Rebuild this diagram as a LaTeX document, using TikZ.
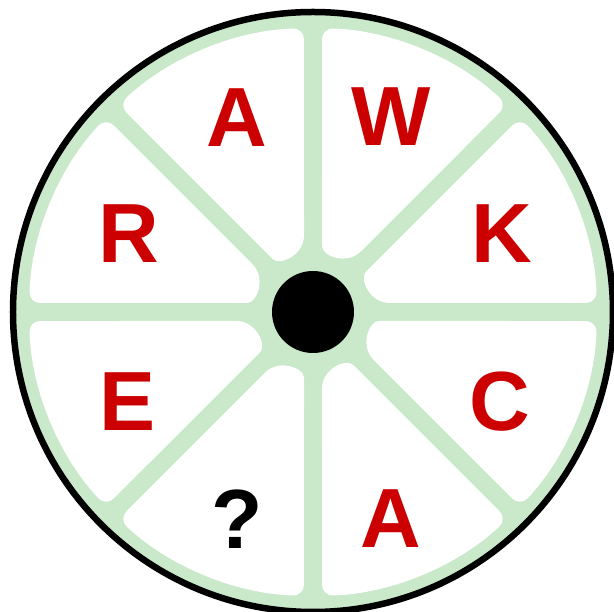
\documentclass[tikz,border=0pt]{standalone}
\usepackage{fontspec}
\usetikzlibrary{calc}
\setmainfont{Liberation Sans}
\definecolor{rimgreen}{RGB}{202,232,202}
\definecolor{letterred}{RGB}{204,0,0}
\tikzset{
  sector/.style={fill=white},
  letter/.style={inner sep=0pt, text=letterred, font=\fontsize{84}{84}\selectfont\bfseries},
  qmark/.style={inner sep=0pt, text=black, font=\fontsize{84}{84}\selectfont\bfseries}
}
\begin{document}
\begin{tikzpicture}[x=1pt,y=1pt]
\useasboundingbox (-313,-300) rectangle (301,312);
\clip (-313,-300) rectangle (301,312);
\fill[white] (-313,-300) rectangle (301,312);
% green disc
\fill[rimgreen] (0,0) circle[radius=299];
% white sectors
\foreach \k in {0,...,7}{
  \pgfmathsetmacro{\a}{45*\k}
  \pgfmathsetmacro{\b}{45*(\k+1)}
  \pgfmathsetmacro{\m}{\a+22.5}
  \pgfmathsetmacro{\sa}{\a+1.82}
  \pgfmathsetmacro{\eb}{\b-1.82}
  \coordinate (tip) at (\m:23.5);
  \coordinate (pa) at ($(tip)!55pt!(\sa:284)$);
  \coordinate (pb) at ($(tip)!55pt!(\eb:284)$);
  \fill[sector] (pa) [rounded corners=11pt] -- (\sa:284) arc[start angle=\sa, end angle=\eb, radius=284] -- (pb)
     [sharp corners] .. controls ($(pb)!0.37!(tip)$) and ($(pa)!0.37!(tip)$) .. (pa);
}
% outer black ring
\draw[line width=6.5pt] (0,0) circle[radius=300];
% hub
\fill[black] (0,0) circle[radius=41];
% letters
\node[letter] (a1) at (-76,194) {A};
\node[letter] (w) at (78,195) {W};
\node[letter] (r) at (-184,78) {R};
\node[letter] (k) at (189,78) {K};
\node[letter] (e) at (-185,-90) {E};
\node[letter] (c) at (187,-90) {C};
\node[qmark] (q) at (-76,-207) {?};
\node[letter] (a2) at (78,-207) {A};
\end{tikzpicture}
\end{document}
